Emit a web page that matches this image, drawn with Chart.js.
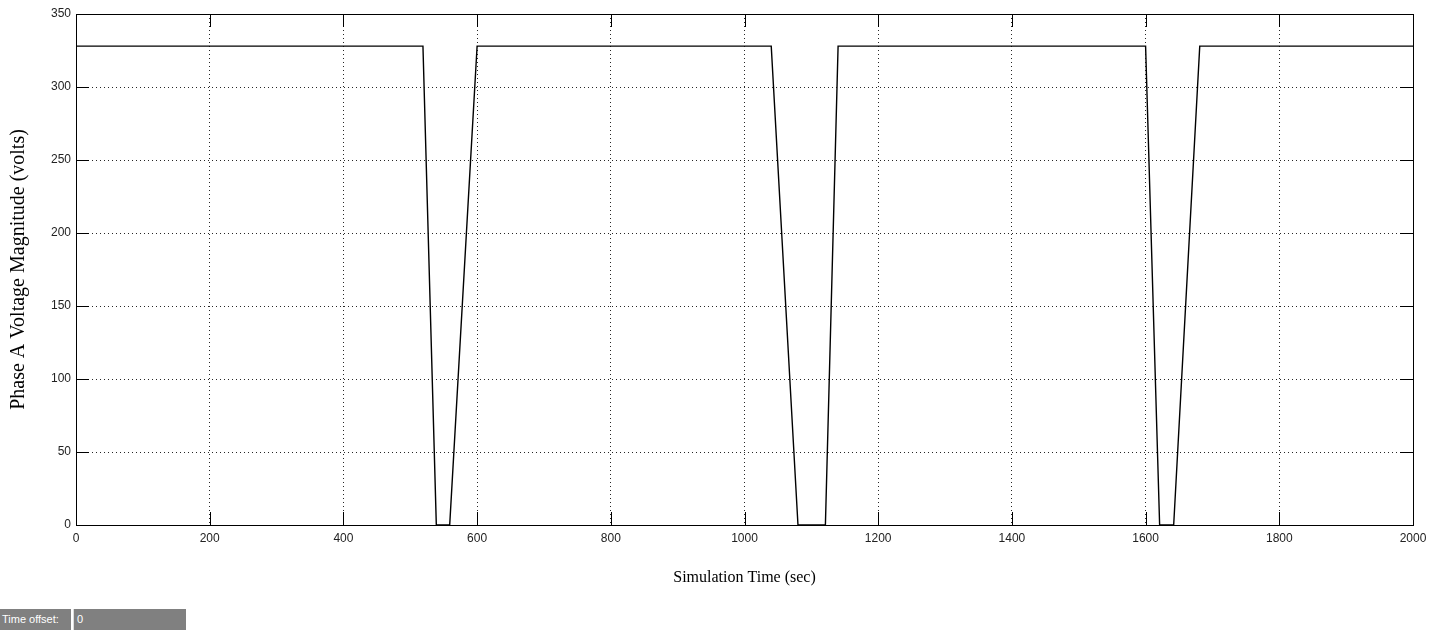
<!DOCTYPE html>
<html>
<head>
<meta charset="utf-8">
<script src="https://cdn.jsdelivr.net/npm/chart.js@4/dist/chart.umd.min.js"></script>
<style>
  body { margin: 0; background: #fff; }
  #wrap { position: relative; width: 1445px; height: 630px; }
  #offset { position: absolute; left: 0; top: 609px; height: 21px; display: flex; font: 11px "Liberation Sans", Arial, sans-serif; color: #fff; }
  #offset .lbl { width: 71px; background: #808080; line-height: 21px; padding-left: 2px; box-sizing: border-box; }
  #offset .val { width: 113px; margin-left: 2px; background: #808080; line-height: 21px; padding-left: 3px; box-sizing: border-box; border-left: 1px solid #ddd; }
</style>
</head>
<body>
<div id="wrap">
  <canvas id="voltage" width="1445" height="630"></canvas>
  <div id="offset"><div class="lbl">Time offset:</div><div class="val">0</div></div>
</div>
<script>
// simulation trace
const timeValues    = [0,   519, 539, 559, 600, 1040, 1080, 1121, 1140, 1600, 1621, 1642, 1681, 2000];
const voltageValues = [328, 328, 0,   0,   328, 328,  0,    0,    328,  328,  0,    0,    328,  328];

const xTickValues = [0, 200, 400, 600, 800, 1000, 1200, 1400, 1600, 1800, 2000];
const yTickValues = [0, 50, 100, 150, 200, 250, 300, 350];

const $canvas = document.getElementById('voltage');

// box frame + inward ticks, matlab style
const matlabAxes = {
    id: 'matlabAxes',
    afterDatasetsDraw(chart) {
        const { ctx, chartArea: a, scales } = chart;
        const tickLen = 13;
        ctx.save();
        ctx.strokeStyle = '#000';
        ctx.lineWidth = 1;
        ctx.strokeRect(Math.round(a.left) + 0.5, Math.round(a.top) + 0.5, Math.round(a.right - a.left), Math.round(a.bottom - a.top));
        ctx.beginPath();
        for (const v of xTickValues) {
            const px = Math.round(scales.x.getPixelForValue(v)) + 0.5;
            ctx.moveTo(px, a.bottom); ctx.lineTo(px, a.bottom - tickLen);
            ctx.moveTo(px, a.top); ctx.lineTo(px, a.top + tickLen);
        }
        for (const v of yTickValues) {
            const py = Math.round(scales.y.getPixelForValue(v)) + 0.5;
            ctx.moveTo(a.left, py); ctx.lineTo(a.left + tickLen, py);
            ctx.moveTo(a.right, py); ctx.lineTo(a.right - tickLen, py);
        }
        ctx.stroke();
        ctx.restore();
    }
};

const tickFont = { family: '"Liberation Sans", Arial, sans-serif', size: 12 };
const titleFamily = '"Liberation Serif", "Times New Roman", serif';

new Chart($canvas, {
    type: 'line',
    data: {
        datasets: [{
            data: timeValues.map((t, i) => ({ x: t, y: voltageValues[i] })),
            borderColor: '#000',
            borderWidth: 1.4,
            pointRadius: 0,
            tension: 0,
            fill: false
        }]
    },
    options: {
        responsive: false,
        animation: false,
        devicePixelRatio: 1,
        layout: { padding: { top: 14, right: 32, left: 0, bottom: 0 } },
        plugins: { legend: { display: false }, tooltip: { enabled: false } },
        scales: {
            x: {
                type: 'linear',
                min: 0,
                max: 2000,
                afterBuildTicks: (scale) => { scale.ticks = xTickValues.map(v => ({ value: v })); },
                afterFit: (scale) => { scale.height = 105; },
                grid: { color: 'rgba(0,0,0,0.85)', lineWidth: 1, drawTicks: false },
                border: { display: false, dash: [1, 3] },
                ticks: { color: '#222', font: tickFont, padding: 6, maxRotation: 0, autoSkip: false, callback: (v) => String(v) },
                title: {
                    display: true,
                    text: 'Simulation Time (sec)',
                    color: '#000',
                    font: { family: titleFamily, size: 16 },
                    padding: { top: 0, bottom: 43 }
                }
            },
            y: {
                type: 'linear',
                min: 0,
                max: 350,
                afterBuildTicks: (scale) => { scale.ticks = yTickValues.map(v => ({ value: v })); },
                afterFit: (scale) => { scale.width = 76; },
                grid: { color: 'rgba(0,0,0,0.85)', lineWidth: 1, drawTicks: false },
                border: { display: false, dash: [1, 3] },
                ticks: { color: '#222', font: tickFont, padding: 5, autoSkip: false, callback: (v) => String(v) },
                title: {
                    display: true,
                    text: 'Phase A Voltage Magnitude (volts)',
                    color: '#000',
                    font: { family: titleFamily, size: 20 },
                    padding: { top: 7, bottom: 0 }
                }
            }
        }
    },
    plugins: [matlabAxes]
});
</script>
</body>
</html>
